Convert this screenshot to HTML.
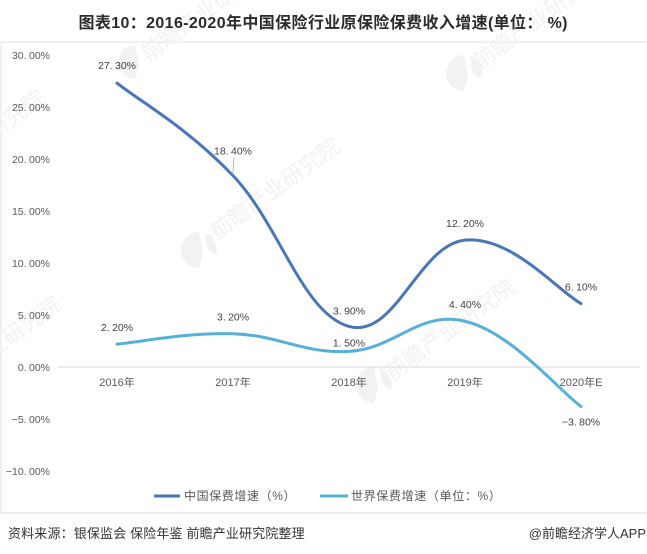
<!DOCTYPE html>
<html lang="zh">
<head>
<meta charset="utf-8">
<title>图表10</title>
<style>
html,body{margin:0;padding:0;background:#fff;}
#page{position:relative;width:647px;height:554px;overflow:hidden;background:#fff;font-family:"Liberation Sans","Noto Sans CJK SC",sans-serif;}
svg{position:absolute;left:0;top:0;}
</style>
</head>
<body>
<div id="page">
<svg id="chart" width="647" height="554" viewBox="0 0 647 554">
  <rect x="0" y="42" width="2" height="471" fill="#eef0f6"/>
  <rect x="0" y="41" width="647" height="2" fill="#f1f1f1"/>
  <rect x="0" y="512" width="647" height="2" fill="#efefef"/>
  <g fill="#f2f2f2" font-family="'Liberation Sans','Noto Sans CJK SC',sans-serif" font-size="22">
    <text transform="translate(148 62) rotate(-36)">前瞻产业研究院</text>
    <path d="M135 45a17 17 0 0 0 0 34l4-14 -4-20z"/>
    <text transform="translate(217 240) rotate(-36)">前瞻产业研究院</text>
    <path d="M199 232a18 18 0 0 0 0 36l4-15 -4-21z M205 233a18 18 0 0 1 11 22l-9-6z"/>
    <text transform="translate(480 70) rotate(-36)">前瞻产业研究院</text>
    <path d="M464 55a18 18 0 0 0 0 36l4-15 -4-21z M470 56a18 18 0 0 1 11 22l-9-6z"/>
    <text transform="translate(392 381) rotate(-36)">前瞻产业研究院</text>
    <path d="M374 367a18 18 0 0 0 0 36l4-15 -4-21z M380 368a18 18 0 0 1 11 22l-9-6z"/>
    <text transform="translate(-78 192) rotate(-36)">前瞻产业研究院</text>
    <text transform="translate(-62 398) rotate(-36)">前瞻产业研究院</text>
  </g>
  <text x="323" y="28" text-anchor="middle" font-size="16" font-weight="700" fill="#2b2b2b" textLength="489" lengthAdjust="spacing">图表10：2016-2020年中国保险行业原保险保费收入增速(单位： %)</text>
  <g id="y-axis"></g>
  <g id="x-axis"></g>
  <g id="series"></g>
  <g id="labels"></g>
  <g>
    <line x1="154" y1="496" x2="180" y2="496" stroke="#4a76b8" stroke-width="3"/>
    <text x="184" y="500" font-size="12" letter-spacing="0.6" fill="#595959">中国保费增速（%）</text>
    <line x1="320" y1="496" x2="348" y2="496" stroke="#56b0d8" stroke-width="3"/>
    <text x="351" y="500" font-size="12" letter-spacing="0.65" fill="#595959">世界保费增速（单位：%）</text>
  </g>
  <text x="8" y="538" font-size="13" letter-spacing="0.15" fill="#333333">资料来源：银保监会 保险年鉴 前瞻产业研究院整理</text>
  <text x="646" y="538" text-anchor="end" font-size="13" fill="#333333">@前瞻经济学人APP</text>
</svg>
</div>
<script>
var categories = ['2016年', '2017年', '2018年', '2019年', '2020年E'];
var chinaGrowth = [27.3, 18.4, 3.9, 12.2, 6.1];
var worldGrowth = [2.2, 3.2, 1.5, 4.4, -3.8];
var yTicks = [30, 25, 20, 15, 10, 5, 0, -5, -10];
var chinaLabelLift = [18, 25, 16, 17, 17];
var worldLabelLift = [17, 17, 9, 17, -15];

var NS = 'http://www.w3.org/2000/svg';
function xPos(i) { return 117 + i * 116; }
function yPos(v) { return 367 - v * 10.4; }
function make(tag, attrs, parent, text) {
  var el = document.createElementNS(NS, tag);
  for (var k in attrs) { el.setAttribute(k, attrs[k]); }
  if (text !== undefined) { el.textContent = text; }
  parent.appendChild(el);
  return el;
}
function writeValue(el, v) {
  var parts = Math.abs(v).toFixed(2).split('.');
  make('tspan', {}, el, (v < 0 ? '\u2212' : '') + parts[0] + '.');
  make('tspan', { dx: 2.4 }, el, parts[1] + '%');
}
function smoothPath(values) {
  var pts = values.map(function (v, i) { return [xPos(i), yPos(v)]; });
  var d = 'M' + pts[0][0] + ' ' + pts[0][1];
  var t = 1 / 5;
  for (var i = 0; i < pts.length - 1; i++) {
    var p0 = pts[Math.max(i - 1, 0)], p1 = pts[i], p2 = pts[i + 1], p3 = pts[Math.min(i + 2, pts.length - 1)];
    d += ' C' + (p1[0] + (p2[0] - p0[0]) * t) + ' ' + (p1[1] + (p2[1] - p0[1]) * t) + ' ' +
      (p2[0] - (p3[0] - p1[0]) * t) + ' ' + (p2[1] - (p3[1] - p1[1]) * t) + ' ' + p2[0] + ' ' + p2[1];
  }
  return d;
}

var yAxis = document.getElementById('y-axis');
var xAxis = document.getElementById('x-axis');
var seriesG = document.getElementById('series');
var labelsG = document.getElementById('labels');

yTicks.forEach(function (v) {
  var el = make('text', { x: 50, y: yPos(v) + 4, 'text-anchor': 'end', 'font-size': 10.5, fill: '#595959' }, yAxis);
  writeValue(el, v);
  
  
});

var baseline = make('line', { x1: 58, x2: 640, y1: yPos(0), y2: yPos(0), stroke: '#d9d9d9', 'stroke-width': 1 }, xAxis);



categories.forEach(function (c, i) {
  var el = make('text', { x: xPos(i), y: 386, 'text-anchor': 'middle', 'font-size': 11, fill: '#595959' }, xAxis, c);
  
  
});

var chinaLine = make('path', { d: smoothPath(chinaGrowth), fill: 'none', stroke: '#4a76b8', 'stroke-width': 3, 'stroke-linecap': 'round' }, seriesG);



var worldLine = make('path', { d: smoothPath(worldGrowth), fill: 'none', stroke: '#56b0d8', 'stroke-width': 3, 'stroke-linecap': 'round' }, seriesG);



chinaGrowth.forEach(function (v, i) {
  var el = make('text', { x: xPos(i), y: yPos(v) - chinaLabelLift[i] + 4, 'text-anchor': 'middle', 'font-size': 10.5, fill: '#404040' }, labelsG);
  writeValue(el, v);
  
  
});

worldGrowth.forEach(function (v, i) {
  var el = make('text', { x: xPos(i), y: yPos(v) - worldLabelLift[i] + 4, 'text-anchor': 'middle', 'font-size': 10.5, fill: '#404040' }, labelsG);
  writeValue(el, v);
  
  
});

var leader = make('line', { x1: xPos(1) + 1, y1: yPos(chinaGrowth[1]) - 18, x2: xPos(1), y2: yPos(chinaGrowth[1]) - 3, stroke: '#a6a6a6', 'stroke-width': 0.8 }, labelsG);


</script>
</body>
</html>
